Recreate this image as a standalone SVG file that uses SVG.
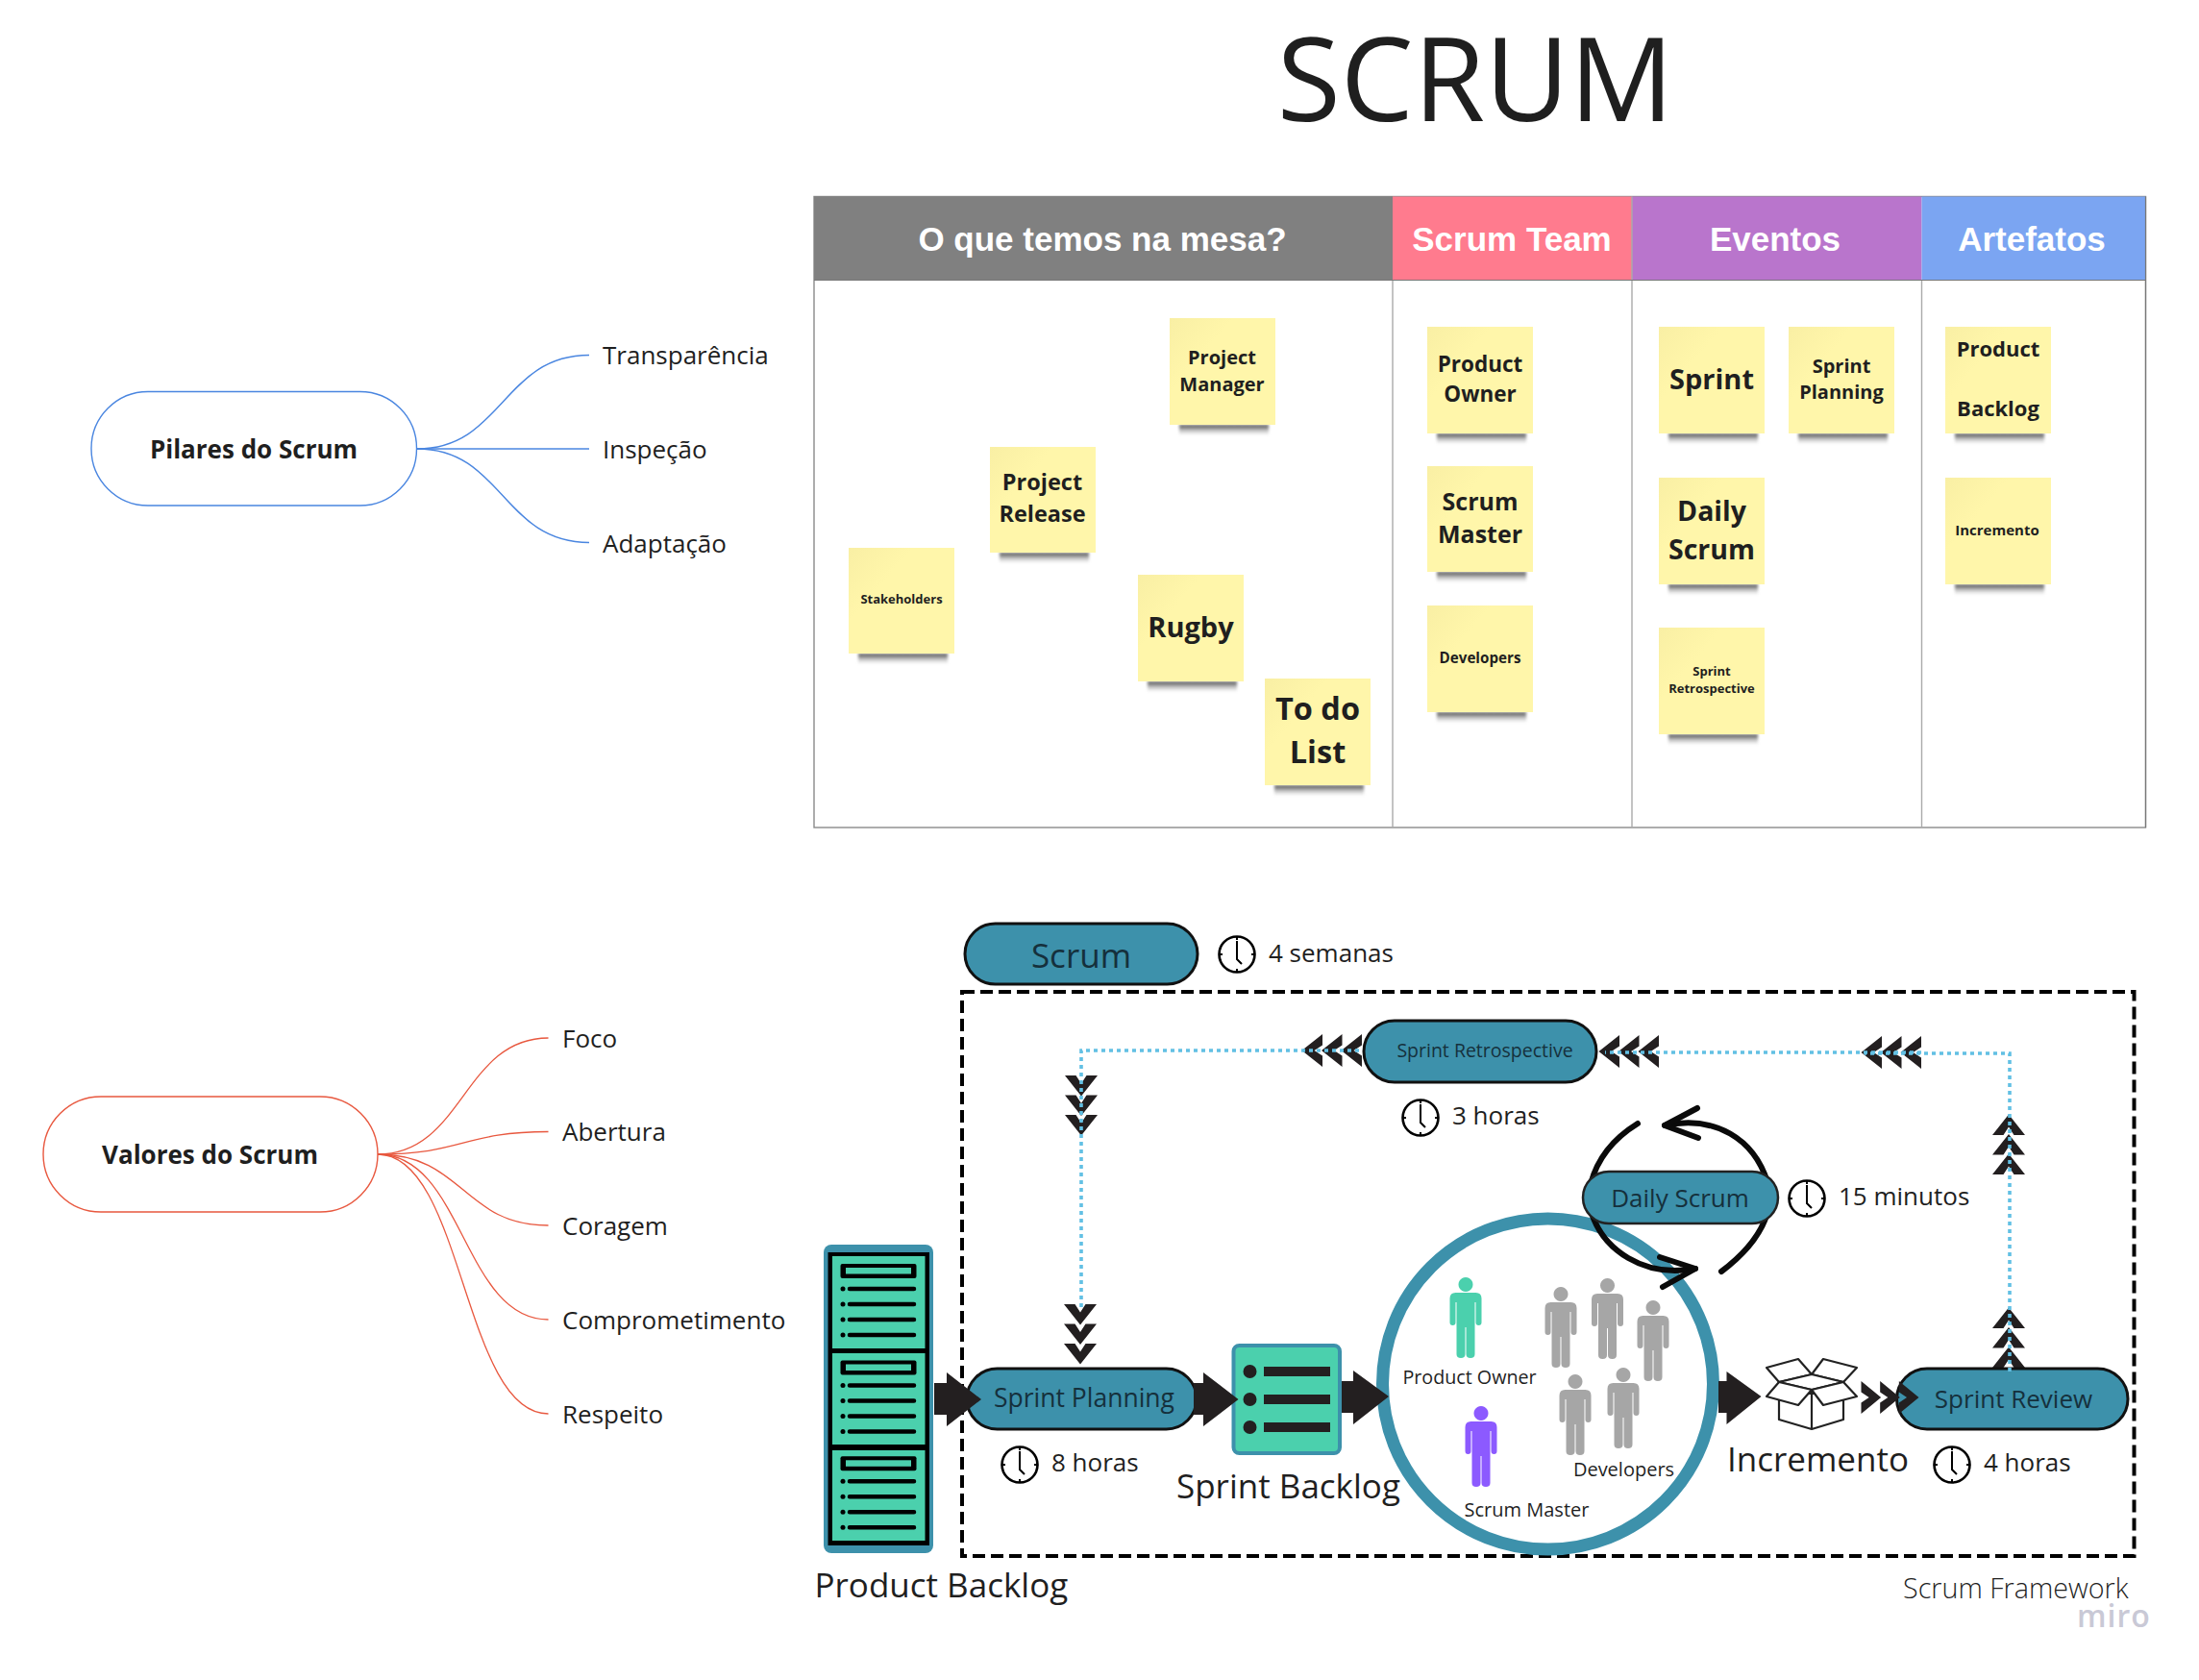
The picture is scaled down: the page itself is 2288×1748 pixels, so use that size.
<svg xmlns="http://www.w3.org/2000/svg" width="2288" height="1748" viewBox="0 0 2288 1748">
<style>
text{font-family:"Open Sans","Noto Sans","DejaVu Sans",sans-serif;fill:#1f1f1f}
.b{font-weight:700;text-anchor:middle}
.m{text-anchor:middle}
.h{font-family:"Liberation Sans",Arial,sans-serif;font-weight:700;font-size:35px;fill:#fff;text-anchor:middle}
.t26{font-size:26px}
.pt{fill:#15303c;text-anchor:middle}
.sticky{fill:url(#sg)}
.shadow{fill:url(#shg);filter:url(#bl)}
.pill{fill:#3d91ab;stroke:#111;stroke-width:3}
.bl{fill:none;stroke:#4a86e0;stroke-width:1.4}
.rd{fill:none;stroke:#e8583f;stroke-width:1.3}
.dot{fill:none;stroke:#62c0e4;stroke-width:3.6;stroke-dasharray:4 4}
.ar{fill:#231f20}
.loop{fill:none;stroke:#0a0a0a;stroke-width:6;stroke-linecap:round;stroke-linejoin:round}
.box{fill:#fff;stroke:#222;stroke-width:2.2;stroke-linejoin:round}
.t{fill:#4bd0ad}
</style>
<defs>
<linearGradient id="sg" x1="0" y1="0" x2="0.35" y2="0.3"><stop offset="0" stop-color="#f9efa4"/><stop offset="1" stop-color="#fff6aa"/></linearGradient>
<linearGradient id="shg" x1="0" y1="0" x2="0" y2="1"><stop offset="0" stop-color="#444"/><stop offset="1" stop-color="#aaa" stop-opacity="0"/></linearGradient>
<filter id="bl" x="-10%" y="-50%" width="120%" height="200%"><feGaussianBlur stdDeviation="1.5"/></filter>
<polygon id="chev" class="ar" points="-17,0 -5.5,0 0,8.5 5.5,0 17,0 0,21.5"/>
<g id="tri"><use href="#chev" y="0"/><use href="#chev" y="20.5"/><use href="#chev" y="41"/></g>
<g id="clock" fill="none" stroke="#000">
<circle r="18.5" fill="#fff" stroke-width="2.6"/>
<path d="M0-18V-15M0 18V15M-18 0H-15M18 0H15" stroke-width="2"/>
<path d="M0-14V5L5 10" stroke-width="2"/>
</g>
<path id="person" d="M16.5 0a7.5 7.5 0 1 0 .01 0ZM6 16H27Q33 16 33 22V47Q33 50 30 50Q27 50 27 47V26H26V80Q26 84 21.5 84Q17 84 17 80V52H16V80Q16 84 11.5 84Q7 84 7 80V26H6V47Q6 50 3 50Q0 50 0 47V22Q0 16 6 16Z"/>
<g id="stack-panel">
<rect x="874.5" y="1315" width="79" height="15" fill="#000" rx="2"/><rect x="880" y="1319" width="68" height="6.5" class="t"/>
<g stroke="#000" stroke-width="4.5" stroke-linecap="round"><path d="M884 1341H951M884 1357H951M884 1373H951M884 1389H951"/></g>
<g fill="#000"><circle cx="877" cy="1341" r="2.5"/><circle cx="877" cy="1357" r="2.5"/><circle cx="877" cy="1373" r="2.5"/><circle cx="877" cy="1389" r="2.5"/></g>
</g>
</defs>
<rect width="2288" height="1748" fill="#fff"/>

<g id="title"><text x="1535" y="126" class="m" font-size="120.5">SCRUM</text></g>

<g id="board">
<rect x="847" y="204.5" width="1385.5" height="656.5" fill="#fff" stroke="#8a8a8a" stroke-width="1.4"/>
<rect x="847" y="204.5" width="602" height="87" fill="#808080"/>
<rect x="1449" y="204.5" width="249" height="87" fill="#ff7b8e"/>
<rect x="1698" y="204.5" width="301.5" height="87" fill="#b975cc"/>
<rect x="1999.5" y="204.5" width="233" height="87" fill="#7ba5f2"/>
<path d="M1449 291.5V861M1698 204.5V861M1999.5 291.5V861" stroke="#aaa" stroke-width="1.4" fill="none"/>
<path d="M847 291.5H2232.5M2232.5 204.5V861" stroke="#777" stroke-width="1.2" fill="none"/>
<text x="1147" y="261" class="h">O que temos na mesa?</text>
<text x="1573" y="261" class="h">Scrum Team</text>
<text x="1847" y="261" class="h">Eventos</text>
<text x="2114" y="261" class="h">Artefatos</text>
</g>

<g id="sticky-stakeholders"><rect class="shadow" x="893" y="680" width="93" height="11"/><rect class="sticky" x="883" y="570" width="110" height="110"/><text class="b" x="938" y="628" font-size="13">Stakeholders</text></g>
<g id="sticky-project-release"><rect class="shadow" x="1040" y="575" width="93" height="11"/><rect class="sticky" x="1030" y="465" width="110" height="110"/><text class="b" x="1084.5" y="510" font-size="23.5">Project</text><text class="b" x="1084.5" y="543" font-size="23.5">Release</text></g>
<g id="sticky-project-manager"><rect class="shadow" x="1227" y="442" width="93" height="11"/><rect class="sticky" x="1217" y="331" width="110" height="111"/><text class="b" x="1271.5" y="379" font-size="20">Project</text><text class="b" x="1271.5" y="407" font-size="20">Manager</text></g>
<g id="sticky-rugby"><rect class="shadow" x="1194" y="709" width="93" height="11"/><rect class="sticky" x="1184" y="598" width="110" height="111"/><text class="b" x="1239" y="663" font-size="29">Rugby</text></g>
<g id="sticky-todo"><rect class="shadow" x="1326" y="817" width="93" height="11"/><rect class="sticky" x="1316" y="706" width="110" height="111"/><text class="b" x="1371" y="749" font-size="32.5">To do</text><text class="b" x="1371" y="794" font-size="32.5">List</text></g>

<g id="sticky-product-owner"><rect class="shadow" x="1495" y="451" width="93" height="11"/><rect class="sticky" x="1485" y="340" width="110" height="111"/><text class="b" x="1540" y="387" font-size="22.5">Product</text><text class="b" x="1540" y="418" font-size="22.5">Owner</text></g>
<g id="sticky-scrum-master"><rect class="shadow" x="1495" y="595" width="93" height="11"/><rect class="sticky" x="1485" y="485" width="110" height="110"/><text class="b" x="1540" y="531" font-size="25">Scrum</text><text class="b" x="1540" y="565" font-size="25">Master</text></g>
<g id="sticky-developers"><rect class="shadow" x="1495" y="741" width="93" height="11"/><rect class="sticky" x="1485" y="630" width="110" height="111"/><text class="b" x="1540" y="690" font-size="15.2">Developers</text></g>

<g id="sticky-sprint"><rect class="shadow" x="1736" y="451" width="93" height="11"/><rect class="sticky" x="1726" y="340" width="110" height="111"/><text class="b" x="1781" y="405" font-size="29">Sprint</text></g>
<g id="sticky-sprint-planning"><rect class="shadow" x="1871" y="451" width="93" height="11"/><rect class="sticky" x="1861" y="340" width="110" height="111"/><text class="b" x="1916" y="388" font-size="20">Sprint</text><text class="b" x="1916" y="415" font-size="20">Planning</text></g>
<g id="sticky-daily-scrum"><rect class="shadow" x="1736" y="608" width="93" height="11"/><rect class="sticky" x="1726" y="497" width="110" height="111"/><text class="b" x="1781" y="542" font-size="28.5">Daily</text><text class="b" x="1781" y="582" font-size="28.5">Scrum</text></g>
<g id="sticky-sprint-retro"><rect class="shadow" x="1736" y="764" width="93" height="11"/><rect class="sticky" x="1726" y="653" width="110" height="111"/><text class="b" x="1781" y="703" font-size="13">Sprint</text><text class="b" x="1781" y="721" font-size="13">Retrospective</text></g>
<g id="sticky-product-backlog"><rect class="shadow" x="2034" y="451" width="93" height="11"/><rect class="sticky" x="2024" y="340" width="110" height="111"/><text class="b" x="2079" y="371" font-size="22">Product</text><text class="b" x="2079" y="433" font-size="22">Backlog</text></g>
<g id="sticky-incremento"><rect class="shadow" x="2034" y="608" width="93" height="11"/><rect class="sticky" x="2024" y="497" width="110" height="111"/><text class="b" x="2078" y="557" font-size="15">Incremento</text></g>

<g id="connectors">
<path class="bl" d="M434 467C523 467 523 369.5 613 369.5"/>
<path class="bl" d="M434 467H613"/>
<path class="bl" d="M434 467C523 467 523 564.5 613 564.5"/>
<path class="rd" d="M393 1201C482 1201 482 1080 570.5 1080"/>
<path class="rd" d="M393 1201C482 1201 482 1177.5 570.5 1177.5"/>
<path class="rd" d="M393 1201C482 1201 482 1275 570.5 1275"/>
<path class="rd" d="M393 1201C482 1201 482 1373 570.5 1373"/>
<path class="rd" d="M393 1201C482 1201 482 1471 570.5 1471"/>
</g>

<g id="pilares"><rect x="95" y="407.5" width="338.5" height="118.5" rx="59" fill="#fff" stroke="#4a86e0" stroke-width="1.4"/><text class="b" x="264" y="477" font-size="26">Pilares do Scrum</text></g>
<g id="valores"><rect x="45" y="1141" width="348" height="120" rx="60" fill="#fff" stroke="#e8583f" stroke-width="1.4"/><text class="b" x="218.5" y="1211" font-size="26">Valores do Scrum</text></g>
<g id="pilares-items" class="t26">
<text x="627" y="379">Transparência</text><text x="627" y="477">Inspeção</text><text x="627" y="575">Adaptação</text>
</g>
<g id="valores-items" class="t26">
<text x="585" y="1090">Foco</text><text x="585" y="1187">Abertura</text><text x="585" y="1285">Coragem</text><text x="585" y="1383">Comprometimento</text><text x="585" y="1481">Respeito</text>
</g>

<g id="scrum-frame"><rect x="1001" y="1032" width="1219.5" height="587" fill="none" stroke="#000" stroke-width="4" stroke-dasharray="13 6"/></g>

<g id="team-circle"><circle cx="1610.5" cy="1440" r="172" fill="#fff" stroke="#3d91ab" stroke-width="13"/>
<use href="#person" x="1508.5" y="1329" fill="#4bd0ad"/>
<use href="#person" x="1524.5" y="1463" fill="#8c5aff"/>
<g fill="#a6a6a6"><use href="#person" x="1607.5" y="1339"/><use href="#person" x="1656" y="1330"/><use href="#person" x="1703.5" y="1353"/><use href="#person" x="1622.5" y="1430"/><use href="#person" x="1672.5" y="1423"/></g>
<text class="m" x="1529" y="1440" font-size="19.7">Product Owner</text>
<text class="m" x="1588.5" y="1578" font-size="20">Scrum Master</text>
<text class="m" x="1689.5" y="1536" font-size="20">Developers</text>
</g>

<g id="chevrons">
<use href="#tri" transform="translate(1125 1119)"/>
<use href="#tri" transform="translate(1124 1357)"/>
<use href="#tri" transform="translate(1417 1093) rotate(90)"/>
<use href="#tri" transform="translate(1726 1094) rotate(90)"/>
<use href="#tri" transform="translate(1999 1095) rotate(90)"/>
<use href="#tri" transform="translate(2090 1222) rotate(180)"/>
<use href="#tri" transform="translate(2090 1423) rotate(180)"/>
</g>

<g id="product-backlog">
<rect x="857" y="1295" width="114" height="321" rx="8" fill="#3d91ab"/>
<rect x="861.5" y="1303" width="105.5" height="305" fill="#000"/>
<rect x="866" y="1307" width="96.5" height="96" class="t"/><rect x="866" y="1408" width="96.5" height="95" class="t"/><rect x="866" y="1509" width="96.5" height="94" class="t"/>
<use href="#stack-panel"/><use href="#stack-panel" y="100.5"/><use href="#stack-panel" y="200.3"/>
<text x="847.5" y="1662" font-size="35">Product Backlog</text>
</g>

<g id="sprint-planning"><rect class="pill" x="1006" y="1424" width="239" height="63" rx="31.5"/><text class="pt" x="1128" y="1464" font-size="26.5">Sprint Planning</text></g>
<g id="sprint-backlog"><rect x="1283.5" y="1400" width="110.5" height="112" rx="6" fill="#4bd0ad" stroke="#3d91ab" stroke-width="4"/>
<g class="ar"><circle cx="1300.5" cy="1427" r="7"/><circle cx="1300.5" cy="1456" r="7"/><circle cx="1300.5" cy="1485" r="7"/><rect x="1315" y="1422" width="69" height="10"/><rect x="1315" y="1451" width="69" height="10"/><rect x="1315" y="1480" width="69" height="10"/></g>
<text x="1224" y="1559" font-size="35">Sprint Backlog</text></g>
<g id="sprint-review"><rect class="pill" x="1973.5" y="1424" width="240.5" height="63" rx="31.5"/><text class="pt" x="2095" y="1465" font-size="26">Sprint Review</text></g>
<g id="sprint-retro"><rect class="pill" x="1419" y="1062" width="242" height="64" rx="32"/><text class="pt" x="1545" y="1100" font-size="19.5">Sprint Retrospective</text></g>
<g id="scrum-pill"><rect class="pill" x="1004" y="961" width="242" height="63" rx="31.5"/><text class="pt" x="1125" y="1007" font-size="35">Scrum</text></g>

<g id="dotted-connectors">
<path class="dot" d="M1414 1093H1125V1363"/>
<path class="dot" d="M1999 1095H1670"/>
<path class="dot" d="M2091 1427V1096H1940"/>
</g>

<g id="arrows">
<path class="ar" d="M972 1439H985V1428L1021 1456L985 1484V1472H972Z"/>
<path class="ar" d="M1242 1439H1252V1428L1288.5 1456L1252 1484V1472H1242Z"/>
<path class="ar" d="M1396 1437H1408V1426L1445 1453L1408 1482V1470H1396Z"/>
<path class="ar" d="M1788 1437H1796.5V1427L1832.5 1453L1796.5 1482V1470H1788Z"/>
<use href="#tri" transform="translate(1936.5 1454) rotate(-90) scale(1 .96)"/>
</g>

<g id="increment">
<path class="box" d="M1851 1450V1477L1885 1487L1918 1477V1450Z"/>
<path class="box" d="M1885 1487V1446"/>
<path class="box" d="M1851 1438L1838 1423L1871 1414L1885 1430L1897 1414L1932 1423L1918 1438L1885 1430Z"/>
<path class="box" d="M1851 1438L1885 1430L1918 1438L1885 1446Z"/>
<path class="box" d="M1851 1438L1885 1446L1871 1462L1838 1453Z"/>
<path class="box" d="M1918 1438L1885 1446L1897 1462L1932 1453Z"/>
<text x="1797" y="1531" font-size="35">Incremento</text>
</g>

<g id="daily-loop">
<path class="loop" d="M1704 1169C1678 1185 1662 1205 1655 1232"/>
<path class="loop" d="M1732 1171C1785 1160 1825 1185 1839 1230"/>
<path class="loop" d="M1766 1153L1732 1171L1767 1184"/>
<path class="loop" d="M1656 1262C1668 1300 1710 1330 1764 1320"/>
<path class="loop" d="M1727 1308L1764 1320L1730 1339"/>
<path class="loop" d="M1791 1323C1815 1305 1832 1285 1839 1262"/>
</g>
<g id="daily-scrum"><rect x="1647" y="1219" width="203" height="54" rx="27" fill="#3d91ab" stroke="#222" stroke-width="2.5"/><text class="pt" x="1748" y="1256" font-size="26">Daily Scrum</text></g>

<g id="durations" class="t26">
<use href="#clock" x="1287" y="993"/><text x="1320" y="1001">4 semanas</text>
<use href="#clock" x="1478" y="1163"/><text x="1511" y="1170">3 horas</text>
<use href="#clock" x="1880" y="1247"/><text x="1913" y="1254">15 minutos</text>
<use href="#clock" x="1061" y="1524"/><text x="1094" y="1531">8 horas</text>
<use href="#clock" x="2031" y="1524"/><text x="2064" y="1531">4 horas</text>
</g>

<g id="footer">
<text x="1980" y="1663" font-size="28.7" font-weight="300">Scrum Framework</text>
<text x="2161" y="1693" font-size="32" font-weight="600" style="fill:#c9c9d6" letter-spacing="1">miro</text>
</g>
</svg>
